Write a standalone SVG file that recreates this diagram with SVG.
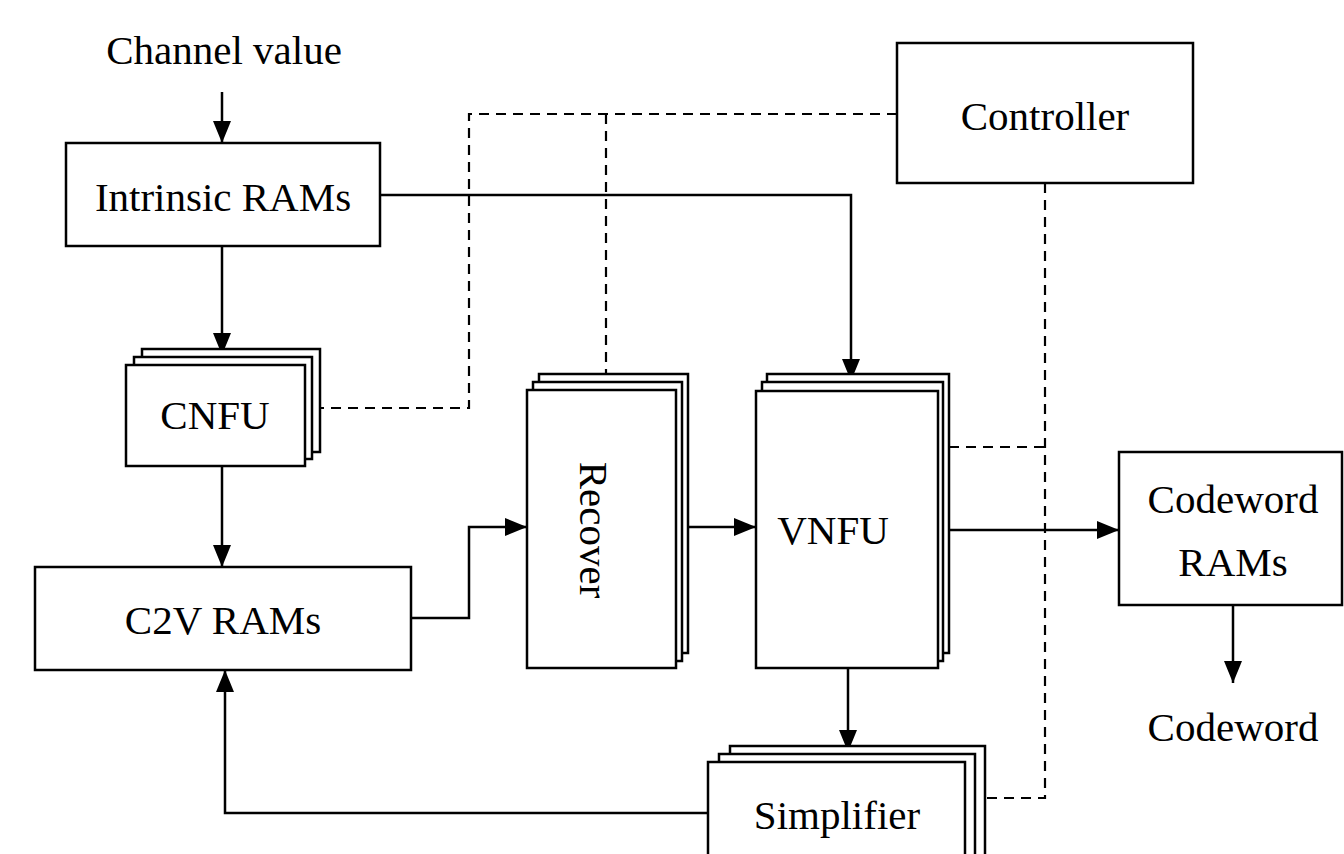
<svg xmlns="http://www.w3.org/2000/svg" width="1344" height="854" viewBox="0 0 1344 854">
  <defs>
    <marker id="arrow" markerWidth="22" markerHeight="18" refX="22" refY="9" orient="auto" markerUnits="userSpaceOnUse" viewBox="0 0 22 18">
      <path d="M0,0 L22,9 L0,18 Z" fill="#000"/>
    </marker>
    <style>
      .box { fill: #fff; stroke: #000; stroke-width: 2.5; }
      .lbl { font-family: "Liberation Serif", "Times New Roman", serif; font-size: 41px; fill: #000; text-anchor: middle; dominant-baseline: central; }
      .wire { fill: none; stroke: #000; stroke-width: 2.5; }
      .ctl { fill: none; stroke: #000; stroke-width: 2.2; stroke-dasharray: 10 7; }
    </style>
  </defs>
  <rect width="1344" height="854" fill="#fff"/>

  <!-- control wiring (dashed) -->
  <g id="control-lines">
    <path class="ctl" d="M897,114 H469 V408 H320"/>
    <path class="ctl" d="M606,114 V374"/>
    <path class="ctl" d="M1045,183 V798 H985"/>
    <path class="ctl" d="M949,447 H1045"/>
  </g>

  <!-- data connectors -->
  <g id="connectors">
    <path class="wire" d="M222,92 V143" marker-end="url(#arrow)"/>
    <path class="wire" d="M222,246 V355" marker-end="url(#arrow)"/>
    <path class="wire" d="M222,466 V567" marker-end="url(#arrow)"/>
    <path class="wire" d="M380,195 H851 V381" marker-end="url(#arrow)"/>
    <path class="wire" d="M411,618 H469 V527 H527" marker-end="url(#arrow)"/>
    <path class="wire" d="M676,527 H756" marker-end="url(#arrow)"/>
    <path class="wire" d="M938,530 H1119" marker-end="url(#arrow)"/>
    <path class="wire" d="M848,668 V752" marker-end="url(#arrow)"/>
    <path class="wire" d="M708,813 H225 V670" marker-end="url(#arrow)"/>
    <path class="wire" d="M1233,605 V683" marker-end="url(#arrow)"/>
  </g>

  <text class="lbl" x="224" y="50">Channel value</text>

  <g id="intrinsic-rams">
    <rect class="box" x="66" y="143" width="314" height="103"/>
    <text class="lbl" x="223" y="197">Intrinsic RAMs</text>
  </g>

  <g id="cnfu">
    <rect class="box" x="142" y="349" width="178" height="103"/>
    <rect class="box" x="134" y="357" width="178" height="102"/>
    <rect class="box" x="126" y="365" width="179" height="101"/>
    <text class="lbl" x="215" y="415">CNFU</text>
  </g>

  <g id="c2v-rams">
    <rect class="box" x="35" y="567" width="376" height="103"/>
    <text class="lbl" x="223" y="620">C2V RAMs</text>
  </g>

  <g id="recover">
    <rect class="box" x="539" y="374" width="149" height="279"/>
    <rect class="box" x="533" y="382" width="149" height="279"/>
    <rect class="box" x="527" y="390" width="149" height="278"/>
    <text class="lbl" x="0" y="0" transform="translate(594,530) rotate(90)">Recover</text>
  </g>

  <g id="vnfu">
    <rect class="box" x="767" y="374" width="182" height="279"/>
    <rect class="box" x="762" y="382" width="181" height="279"/>
    <rect class="box" x="756" y="391" width="182" height="277"/>
    <text class="lbl" x="833" y="530">VNFU</text>
  </g>

  <g id="controller">
    <rect class="box" x="897" y="43" width="296" height="140"/>
    <text class="lbl" x="1045" y="116">Controller</text>
  </g>

  <g id="codeword-rams">
    <rect class="box" x="1119" y="452" width="223" height="153"/>
    <text class="lbl" x="1233" y="499">Codeword</text>
    <text class="lbl" x="1233" y="562">RAMs</text>
  </g>

  <text class="lbl" x="1233" y="727">Codeword</text>

  <g id="simplifier">
    <rect class="box" x="730" y="746" width="255" height="120"/>
    <rect class="box" x="719" y="754" width="256" height="120"/>
    <rect class="box" x="708" y="762" width="257" height="120"/>
    <text class="lbl" x="837" y="815">Simplifier</text>
  </g>
</svg>
